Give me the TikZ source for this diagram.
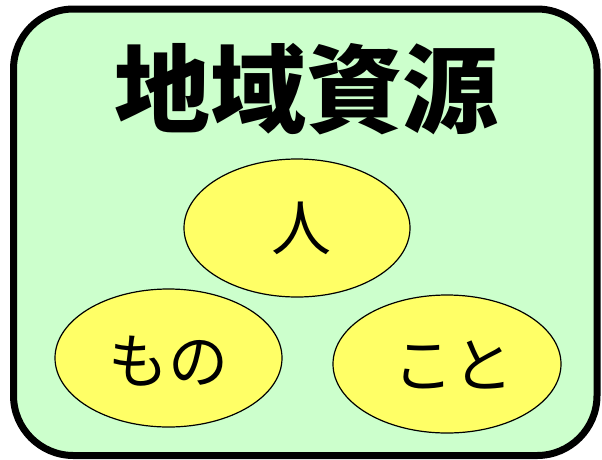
\documentclass[tikz,border=0pt]{standalone}
\usepackage{fontspec}
\newfontfamily\cjk{Noto Sans CJK JP}
\usetikzlibrary{shapes.geometric}
\definecolor{bggreen}{HTML}{CCFFCC}
\definecolor{ellyellow}{HTML}{FFFF66}
\tikzset{
  frame/.style={draw=black, line width=7pt, fill=bggreen, rounded corners=60pt},
  bubble/.style={draw=black, line width=1.2pt, fill=ellyellow},
  label/.style={font=\cjk\fontsize{60}{60}\selectfont, inner sep=0pt},
}
\begin{document}
\begin{tikzpicture}[x=1pt,y=-1pt]
\useasboundingbox (0,0) rectangle (602,459);
\draw[frame] (13.5,9) rectangle (597,455.5);
\node[font=\cjk\bfseries\fontsize{96}{96}\selectfont, inner sep=0pt] (title) at (306,89) {地域資源};
\draw[bubble] (297,228) ellipse [x radius=113, y radius=69];
\draw[bubble] (168.5,358) ellipse [x radius=113.5, y radius=69];
\draw[bubble] (447,364) ellipse [x radius=114, y radius=69];
\node[label] (hito) at (301,228) {人};
\node[label] (mono) at (168,361) {もの};
\node[label] (koto) at (453,365) {こと};
\end{tikzpicture}
\end{document}
